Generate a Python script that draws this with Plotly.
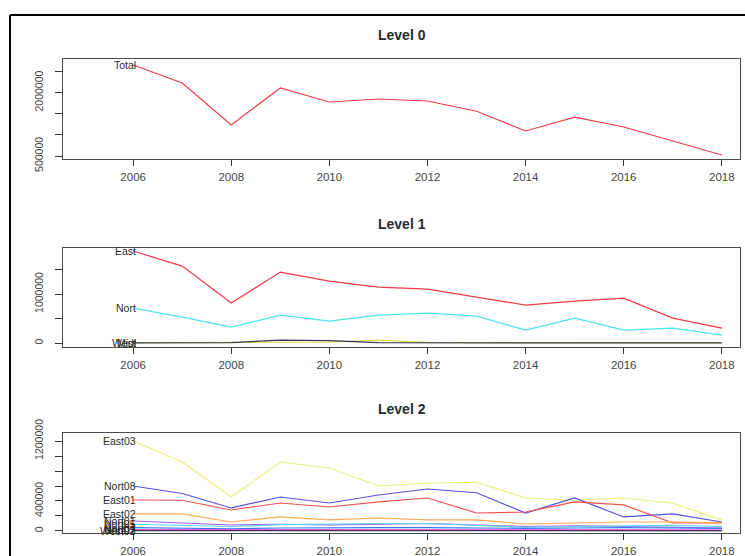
import plotly.graph_objects as go

# ---------------- data ----------------
years = list(range(2006, 2019))

# Level 0
total = [2654000, 2228000, 1234000, 2109000, 1778000, 1849000, 1802000,
         1560000, 1092000, 1420000, 1186000, 860000, 523000]

# Level 1
east = [1878000, 1571000, 816000, 1449000, 1265000, 1143000, 1100000,
        940000, 776000, 857000, 918000, 510000, 306000]
nort = [714000, 530000, 327000, 571000, 449000, 571000, 612000,
        550000, 265000, 510000, 265000, 306000, 163000]
midl = [8000, 8000, 6000, 10000, 20000, 60000, 15000,
        8000, 6000, 6000, 6000, 5000, 4000]
west = [5000, 5000, 10000, 60000, 50000, 8000, 5000,
        5000, 4000, 4000, 4000, 3000, 3000]

# Level 2
east03 = [1200000, 920000, 453000, 920000, 840000, 600000, 640000,
          650000, 440000, 410000, 440000, 370000, 147000]
nort08 = [600000, 500000, 307000, 453000, 373000, 480000, 560000,
          510000, 240000, 440000, 187000, 227000, 120000]
east01 = [413000, 410000, 280000, 373000, 320000, 387000, 440000,
          240000, 253000, 387000, 347000, 107000, 107000]
east02 = [227000, 227000, 120000, 187000, 147000, 173000, 147000,
          147000, 93000, 107000, 120000, 120000, 107000]
nort01 = [133000, 110000, 80000, 90000, 80000, 90000, 100000,
          80000, 60000, 70000, 60000, 50000, 40000]
nort05 = [90000, 75000, 60000, 85000, 95000, 100000, 100000,
          75000, 50000, 60000, 70000, 75000, 60000]
nort04 = [45000, 40000, 30000, 40000, 45000, 45000, 45000,
          40000, 35000, 40000, 45000, 40000, 35000]
nort02 = [15000, 14000, 12000, 15000, 15000, 16000, 15000,
          14000, 13000, 14000, 14000, 13000, 12000]
nort03 = [8000, 8000, 7000, 8000, 8000, 9000, 8000,
          8000, 7000, 7000, 7000, 7000, 6000]
west01 = [3000, 3000, 3000, 3000, 3000, 3000, 3000,
          3000, 3000, 3000, 3000, 3000, 3000]

xticks = [2006, 2008, 2010, 2012, 2014, 2016, 2018]

y1_ticks = [500000, 1000000, 1500000, 2000000, 2500000]
y1_text = ["500000", "", "", "2000000", ""]
y2_ticks = [0, 500000, 1000000, 1500000]
y2_text = ["0", "", "1000000", ""]
y3_ticks = [0, 200000, 400000, 600000, 800000, 1000000, 1200000]
y3_text = ["0", "", "400000", "", "", "", "1200000"]

panels = [
    ("Level 0", [("Total", total, "#F03A48")]),
    ("Level 1", [("East", east, "#F03A48"),
                 ("Nort", nort, "#4CE2EA"),
                 ("Midl", midl, "#DCE050"),
                 ("West", west, "#3A3450")]),
    ("Level 2", [("East03", east03, "#ECEE78"),
                 ("Nort08", nort08, "#5550E0"),
                 ("East01", east01, "#F05050"),
                 ("East02", east02, "#FFA850"),
                 ("Nort01", nort01, "#A458E8"),
                 ("Nort05", nort05, "#58D4F0"),
                 ("Nort04", nort04, "#3C78F0"),
                 ("Nort02", nort02, "#E038D8"),
                 ("Nort03", nort03, "#B034C8"),
                 ("West01", west01, "#303030")]),
]

W, H = 745, 556
FONT = "Liberation Sans, Arial, sans-serif"

# pixel layout of each panel's plotting box (left, right, top, bottom)
box_x = (63, 740)
box_y = [(59, 159), (248, 347), (433, 533)]
yranges = [(429000, 2796000), (-80000, 1940000), (-27000, 1307000)]
yticks = [(y1_ticks, y1_text), (y2_ticks, y2_text), (y3_ticks, y3_text)]

fig = go.Figure()
layout = dict(
    width=W, height=H,
    margin=dict(l=0, r=0, t=0, b=0, autoexpand=False),
    paper_bgcolor="white", plot_bgcolor="white",
    showlegend=False,
    font=dict(family=FONT, size=10, color="#333333"),
)

annotations = []
for i, (title, series) in enumerate(panels):
    n = "" if i == 0 else str(i + 1)
    xa, ya = "x" + n, "y" + n
    for name, vals, col in series:
        fig.add_trace(go.Scatter(
            x=years, y=vals, mode="lines", name=name,
            line=dict(color=col, width=1.2),
            xaxis=xa, yaxis=ya, hoverinfo="x+y+name"))
        annotations.append(dict(
            x=2006.1, y=vals[0], xref=xa, yref=ya, text=name,
            showarrow=False, xanchor="right", yanchor="middle",
            font=dict(family=FONT, size=10.5, color="#2a2a2a")))
    top, bot = box_y[i]
    dom_y = [1 - bot / H, 1 - top / H]
    layout["xaxis" + n] = dict(
        domain=[box_x[0] / W, box_x[1] / W], anchor=ya,
        range=[2004.57, 2018.37], tickvals=xticks,
        ticks="outside", ticklen=6, tickwidth=1, tickcolor="#333",
        showline=True, linecolor="#4a4a4a", linewidth=1.4, mirror=True,
        showgrid=False, zeroline=False, automargin=False,
        ticklabelstandoff=1,
        tickfont=dict(family=FONT, size=11.5, color="#444"))
    tv, tt = yticks[i]
    layout["yaxis" + n] = dict(
        domain=dom_y, anchor=xa, range=list(yranges[i]),
        tickvals=tv, ticktext=tt, tickangle=-90,
        ticks="outside", ticklen=7, tickwidth=1, tickcolor="#333",
        showline=True, linecolor="#4a4a4a", linewidth=1.4, mirror=True,
        showgrid=False, zeroline=False, ticklabelstandoff=8,
        automargin=False,
        tickfont=dict(family=FONT, size=10.5, color="#444"))
    annotations.append(dict(
        x=(box_x[0] + box_x[1]) / 2 / W, y=1 - (top - 24) / H,
        xref="paper", yref="paper", text="<b>" + title + "</b>",
        showarrow=False, xanchor="center", yanchor="middle",
        font=dict(family=FONT, size=14, color="#2a2a2a")))

layout["annotations"] = annotations
# outer device frame (runs off the right and bottom edges)
layout["shapes"] = [
    dict(type="line", xref="paper", yref="paper",
         x0=10 / W, x1=1, y0=1 - 15 / H, y1=1 - 15 / H,
         line=dict(color="black", width=2)),
    dict(type="line", xref="paper", yref="paper",
         x0=10 / W, x1=10 / W, y0=1 - 15 / H, y1=0,
         line=dict(color="black", width=2)),
]
fig.update_layout(**layout)
fig.write_html("out.html")
